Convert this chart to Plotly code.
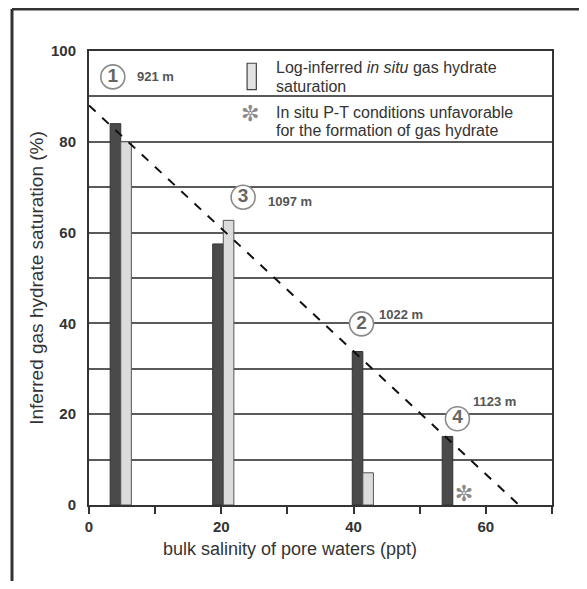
import plotly.graph_objects as go

# ---- data ----
salinity = [4.8, 20.3, 41.4, 55.0]            # bulk salinity (ppt), pair boundary
calc_saturation = [84.0, 57.5, 33.8, 15.1]    # dark bars
log_saturation = [80.0, 62.7, 7.1, None]      # light bars (log-inferred in situ)
unfavorable_x = [56.7]
unfavorable_y = [2.2]
site_numbers = ["1", "3", "2", "4"]
site_depths = ["921 m", "1097 m", "1022 m", "1123 m"]
trend_x = [0, 65]
trend_y = [88, 0]
x_tickvals = [0, 10, 20, 30, 40, 50, 60, 70]
x_ticktext = ["0", "", "20", "", "40", "", "60", ""]
y_tickvals = [0, 10, 20, 30, 40, 50, 60, 70, 80, 90, 100]
y_ticktext = ["0", "", "20", "", "40", "", "60", "", "80", "", "100"]
x_title = "bulk salinity of pore waters (ppt)"
y_title = "Inferred gas hydrate saturation (%)"

# label placement (layout)
circle_pos = [(3.6, 94.3), (23.3, 67.8), (41.2, 39.9), (55.7, 19.0)]
depth_pos = [(7.0, 94.3), (26.7, 66.9), (43.6, 41.9), (57.8, 22.8)]

FONT = "Liberation Sans, Arial, sans-serif"
DARK = "#333333"
PW, PH = 463, 454
ML, MT = 81, 43

fig = go.Figure()
fig.add_trace(go.Bar(x=salinity, y=calc_saturation, width=1.6, offset=-1.6,
                     marker=dict(color="#4a4a4a", line=dict(color="#333333", width=1)),
                     showlegend=False))
fig.add_trace(go.Bar(x=salinity, y=log_saturation, width=1.6, offset=0,
                     marker=dict(color="#dcdcdc", line=dict(color="#555555", width=1)),
                     showlegend=False))
fig.add_trace(go.Scatter(x=trend_x, y=trend_y, mode="lines",
                         line=dict(color="#111111", width=2, dash="dash"),
                         showlegend=False))
fig.add_trace(go.Scatter(x=unfavorable_x, y=unfavorable_y, mode="text", text=["✼"],
                         textfont=dict(size=22, color="#8a8a8a", family="DejaVu Sans"),
                         showlegend=False))
# circled site numbers
fig.add_trace(go.Scatter(x=[p[0] for p in circle_pos], y=[p[1] for p in circle_pos],
                         mode="markers+text", text=site_numbers,
                         marker=dict(size=24, color="white", line=dict(color="#8a8a8a", width=1.6)),
                         textfont=dict(size=19, color="#666666", family=FONT, weight="bold"),
                         textposition="middle center", showlegend=False))

for (px, py), d in zip(depth_pos, site_depths):
    fig.add_annotation(x=px, y=py, text=d, showarrow=False,
                       xanchor="left", yanchor="middle",
                       font=dict(size=13, color="#555555", family=FONT, weight="bold"))

# legend inside plot
fig.add_shape(type="rect", x0=23.9, x1=25.3, y0=91.5, y1=97.3,
              line=dict(color="#444444", width=1.2), fillcolor="#e2e2e2")
fig.add_annotation(x=24.4, y=86.3, text="✼", showarrow=False,
                   font=dict(size=22, color="#8a8a8a", family="DejaVu Sans"))
legend_lines = [("Log-inferred <i>in situ</i> gas hydrate", 96.3),
                ("saturation", 92.1),
                ("In situ P-T conditions unfavorable", 86.4),
                ("for the formation of gas hydrate", 82.4)]
for t, yy in legend_lines:
    fig.add_annotation(x=28.0, y=yy, text=t, showarrow=False, xanchor="left",
                       yanchor="middle", font=dict(size=16, color="#333333", family=FONT))

# x-axis title (offset left of centre as in the original)
fig.add_annotation(xref="paper", yref="paper", x=(290 - 89) / PW, y=-44 / PH,
                   text=x_title, showarrow=False, xanchor="center", yanchor="middle",
                   font=dict(size=18, color=DARK, family=FONT))

# outer frame (page has 8px body margin)
top_y = 1 + (MT - 1) / PH
left_x = (4 - ML) / PW
fig.add_shape(type="line", xref="paper", yref="paper", x0=left_x, x1=(579 - ML) / PW,
              y0=top_y, y1=top_y, line=dict(color=DARK, width=3))
fig.add_shape(type="line", xref="paper", yref="paper", x0=left_x, x1=left_x,
              y0=-(573 - MT - PH) / PH, y1=top_y, line=dict(color=DARK, width=3))
fig.add_shape(type="line", xref="paper", yref="paper", x0=496 / PW, x1=496 / PW,
              y0=-(573 - MT - PH) / PH, y1=top_y, line=dict(color="#e6e6e6", width=1))

fig.update_layout(
    width=579, height=573,
    margin=dict(l=ML, r=579 - ML - PW, t=MT, b=573 - MT - PH, autoexpand=False),
    paper_bgcolor="white", plot_bgcolor="white",
    barmode="overlay",
    font=dict(family=FONT, color=DARK),
    xaxis=dict(range=[0, 70], tickvals=x_tickvals, ticktext=x_ticktext,
               ticks="outside", ticklen=7, tickwidth=2, tickcolor=DARK,
               showgrid=False, zeroline=False, automargin=False,
               showline=True, linecolor=DARK, linewidth=2, mirror=True,
               tickfont=dict(size=15, color=DARK, family=FONT, weight="bold")),
    yaxis=dict(range=[0, 100], tickvals=y_tickvals, ticktext=y_ticktext,
               ticks="outside", ticklen=8, tickcolor="rgba(0,0,0,0)",
               showgrid=True, gridcolor="#5a5a5a", gridwidth=1.5, zeroline=False,
               automargin=False,
               showline=True, linecolor=DARK, linewidth=2, mirror=True,
               tickfont=dict(size=15, color=DARK, family=FONT, weight="bold"),
               title=dict(text=y_title, standoff=2,
                          font=dict(size=19, color=DARK, family=FONT))),
)

fig.write_html("out.html")
